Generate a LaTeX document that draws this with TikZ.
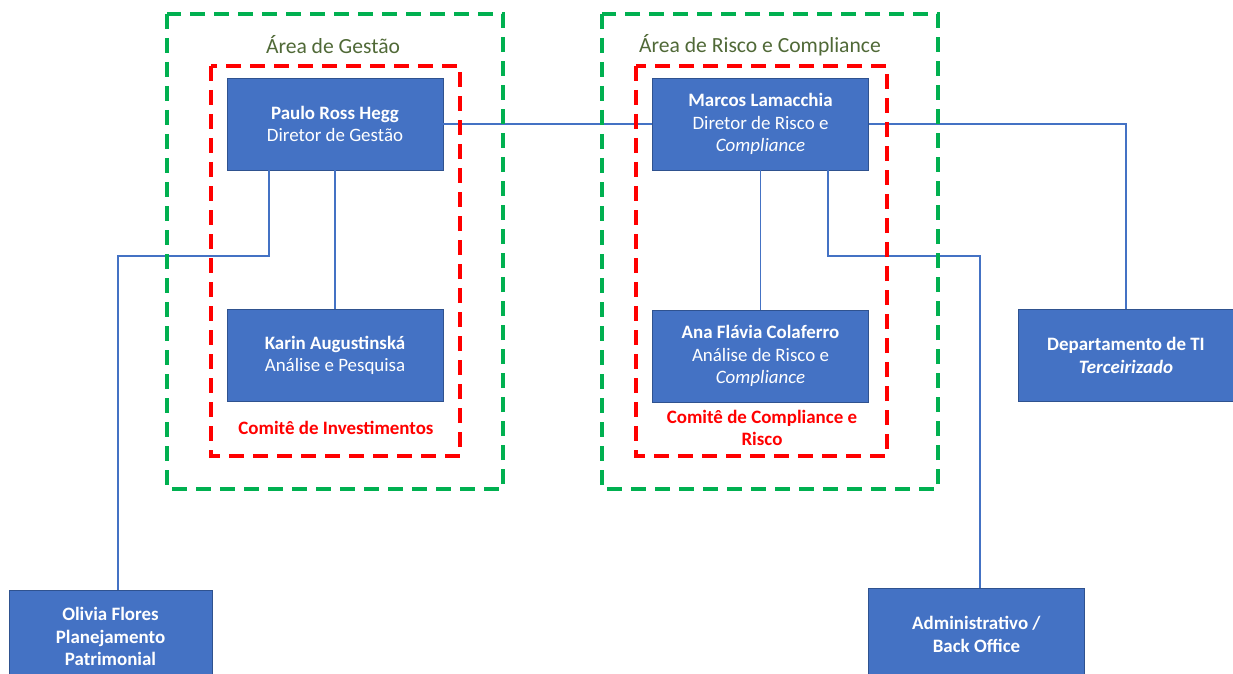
\documentclass[tikz,border=0pt]{standalone}
\usepackage{fontspec}
\setmainfont{Carlito}
\usetikzlibrary{positioning}
\definecolor{caixa}{RGB}{68,114,196}
\definecolor{borda}{RGB}{47,82,143}
\definecolor{verde}{RGB}{0,176,80}
\definecolor{verdeescuro}{RGB}{80,105,55}
\definecolor{vermelho}{RGB}{255,0,0}
\newcommand{\fonteCaixa}{\fontsize{14.2}{17}\selectfont}
\newcommand{\fonteTitulo}{\fontsize{16.2}{19}\selectfont}

\begin{document}
\begin{tikzpicture}[x=0.75pt,y=-0.75pt,
    cargo/.style={draw=borda,fill=caixa,text=white,align=center,
      minimum width=162pt,minimum height=69pt,inner sep=2pt,font=\fonteCaixa},
    ligacao/.style={draw=caixa,line width=0.8pt},
    area/.style={draw=verde,line width=3pt,dash pattern=on 11pt off 7pt},
    comite/.style={draw=vermelho,line width=3pt,dash pattern=on 11pt off 7pt},
    titulo/.style={text=verdeescuro,font=\fonteTitulo},
    nomecomite/.style={text=vermelho,align=center,font=\fonteCaixa\bfseries}]
  \useasboundingbox (0,0) rectangle (1233,674);
  \clip (0,0) rectangle (1233,674);

  % caixas
  \node[cargo] (paulo) at (335,124) {\textbf{Paulo Ross Hegg}\\Diretor de Gestão};
  \node[cargo] (karin) at (335,355.5) {\textbf{Karin Augustinská}\\Análise e Pesquisa};
  \node[cargo] (marcos) at (760.5,124) {\textbf{Marcos Lamacchia}\\Diretor de Risco e\\\textit{Compliance}};
  \node[cargo] (ana) at (760.5,356) {\textbf{Ana Flávia Colaferro}\\Análise de Risco e\\\textit{Compliance}};
  \node[cargo] (ti) at (1126,355.5) {\textbf{Departamento de TI}\\\textbf{\textit{Terceirizado}}};
  \node[cargo,minimum width=152pt] (olivia) at (110.5,636.5) {\textbf{Olivia Flores}\\\textbf{Planejamento}\\\textbf{Patrimonial}};
  \node[cargo] (admin) at (976.5,634.5) {\textbf{Administrativo /}\\\textbf{Back Office}};

  % ligacoes
  \coordinate (saiPaulo) at (269,256);
  \coordinate (desceOlivia) at (118,256);
  \coordinate (saiMarcos) at (828,256);
  \coordinate (desceAdmin) at (980,256);
  \draw[ligacao] (paulo.east) -- (marcos.west);
  \draw[ligacao] (marcos.east) -| (ti.north);
  \draw[ligacao] (paulo.south) -- (karin.north);
  \draw[ligacao] (marcos.south) -- (ana.north);
  \draw[ligacao] (paulo.south -| saiPaulo) -- (saiPaulo) -- (desceOlivia) -- (olivia.north -| desceOlivia);
  \draw[ligacao] (marcos.south -| saiMarcos) -- (saiMarcos) -- (desceAdmin) -- (admin.north -| desceAdmin);

  % areas e comites
  \draw[area] (167,14) rectangle (503,489);
  \draw[area] (602,14) rectangle (938,489);
  \draw[comite] (211,66) rectangle (460,456);
  \draw[comite] (636,66) rectangle (887,456);

  \node[titulo] (tituloGestao) at (333,45) {Área de Gestão};
  \node[titulo] (tituloRisco) at (760,45) {Área de Risco e Compliance};
  \node[nomecomite] (comiteInv) at (336,428) {Comitê de Investimentos};
  \node[nomecomite] (comiteRisco) at (762,428) {Comitê de Compliance e\\Risco};
\end{tikzpicture}
\end{document}
